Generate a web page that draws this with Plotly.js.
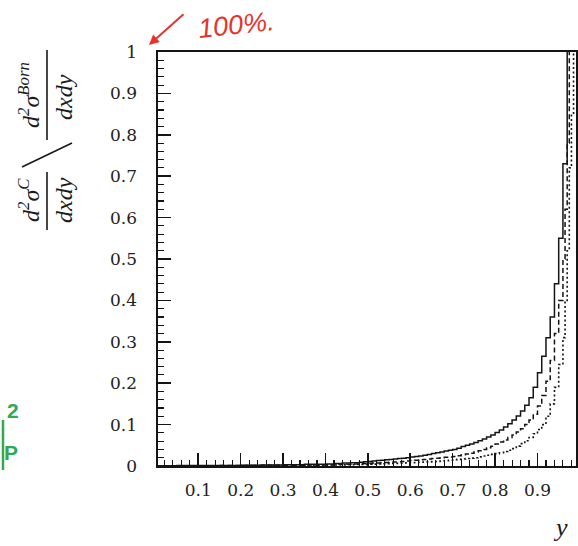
<!DOCTYPE html>
<html><head><meta charset="utf-8">
<script src="https://cdn.plot.ly/plotly-3.0.1.min.js"></script>
<style>html,body{margin:0;padding:0;background:#fff;} #chart{width:578px;height:546px;}</style>
</head><body><div id="chart"></div>
<script>
// bin left edges (last entry is the right edge of the final bin)
const xEdges = [0, 0.05, 0.10, 0.15, 0.20, 0.25, 0.30, 0.35,
  0.40, 0.41, 0.42, 0.43, 0.44, 0.45, 0.46, 0.47, 0.48, 0.49,
  0.50, 0.51, 0.52, 0.53, 0.54, 0.55, 0.56, 0.57, 0.58, 0.59,
  0.60, 0.61, 0.62, 0.63, 0.64, 0.65, 0.66, 0.67, 0.68, 0.69,
  0.70, 0.71, 0.72, 0.73, 0.74, 0.75, 0.76, 0.77, 0.78, 0.79,
  0.80, 0.81, 0.82, 0.83, 0.84, 0.85, 0.86, 0.87, 0.88, 0.89,
  0.90, 0.91, 0.92, 0.93, 0.94, 0.95, 0.96,
  0.965, 0.97, 0.975, 0.98, 0.985, 0.99, 1.0];

// solid histogram
const solidVals = [0.0005, 0.001, 0.001, 0.0015, 0.002, 0.0025, 0.003, 0.004,
  0.005, 0.005, 0.006, 0.006, 0.007, 0.007, 0.008, 0.008, 0.009, 0.010,
  0.011, 0.012, 0.013, 0.014, 0.015, 0.016, 0.017, 0.018, 0.019, 0.020,
  0.022, 0.023, 0.024, 0.026, 0.028, 0.030, 0.032, 0.034, 0.036, 0.038,
  0.040, 0.043, 0.047, 0.050, 0.053, 0.057, 0.061, 0.065, 0.070, 0.075,
  0.081, 0.087, 0.094, 0.102, 0.111, 0.121, 0.133, 0.147, 0.165, 0.19,
  0.225, 0.265, 0.31, 0.36, 0.44, 0.55, 0.73,
  0.73, 1.2, 1.2, 1.2, 1.2, 1.2];

// dashed histogram
const dashedVals = [0.0003, 0.0006, 0.0008, 0.001, 0.0013, 0.0016, 0.002, 0.0025,
  0.003, 0.003, 0.0035, 0.004, 0.004, 0.0045, 0.005, 0.005, 0.0055, 0.006,
  0.0065, 0.007, 0.0075, 0.008, 0.0085, 0.009, 0.0095, 0.010, 0.011, 0.012,
  0.013, 0.014, 0.015, 0.016, 0.017, 0.018, 0.019, 0.020, 0.021, 0.022,
  0.023, 0.025, 0.027, 0.029, 0.031, 0.034, 0.037, 0.040, 0.044, 0.048,
  0.053, 0.058, 0.063, 0.069, 0.075, 0.082, 0.090, 0.100, 0.111, 0.125,
  0.145, 0.17, 0.205, 0.255, 0.32, 0.40, 0.50,
  0.62, 0.78, 1.2, 1.2, 1.2, 1.2];

// dotted histogram
const dottedVals = [0.0002, 0.0004, 0.0005, 0.0007, 0.0009, 0.0011, 0.0013, 0.0016,
  0.002, 0.002, 0.0023, 0.0025, 0.0027, 0.003, 0.0032, 0.0035, 0.0037, 0.004,
  0.0043, 0.0046, 0.005, 0.0053, 0.0056, 0.006, 0.0064, 0.0068, 0.0072, 0.0076,
  0.008, 0.0085, 0.009, 0.0095, 0.010, 0.0105, 0.011, 0.012, 0.013, 0.014,
  0.015, 0.016, 0.017, 0.018, 0.019, 0.020, 0.022, 0.024, 0.026, 0.028,
  0.030, 0.032, 0.035, 0.038, 0.042, 0.048, 0.054, 0.061, 0.069, 0.078,
  0.088, 0.10, 0.12, 0.15, 0.19, 0.245, 0.31,
  0.40, 0.52, 0.72, 0.85, 1.2, 1.2];

const yTickVals = [0, 0.1, 0.2, 0.3, 0.4, 0.5, 0.6, 0.7, 0.8, 0.9, 1];
const yTickText = ['0', '0.1', '0.2', '0.3', '0.4', '0.5', '0.6', '0.7', '0.8', '0.9', '1'];
const xTickVals = [0.1, 0.2, 0.3, 0.4, 0.5, 0.6, 0.7, 0.8, 0.9];
const xTickText = ['0.1', '0.2', '0.3', '0.4', '0.5', '0.6', '0.7', '0.8', '0.9'];

const W = 578, H = 546, L = 158, R = 2, T = 52, B = 80;
const pw = W - L - R, ph = H - T - B;
function px(x) { return (x - L) / pw; }
function py(y) { return (H - B - y) / ph; }
function step(v) { return v.concat([v[v.length - 1]]); }

const ink = '#141414';
const traces = [
  {x: xEdges, y: step(solidVals), mode: 'lines', line: {shape: 'hv', color: ink, width: 1.5}, hoverinfo: 'skip'},
  {x: xEdges, y: step(dashedVals), mode: 'lines', line: {shape: 'hv', color: ink, width: 1.5, dash: '5px,3px'}, hoverinfo: 'skip'},
  {x: xEdges, y: step(dottedVals), mode: 'lines', line: {shape: 'hv', color: ink, width: 1.6, dash: '2px,2.5px'}, hoverinfo: 'skip'}
];

const tickFont = {family: 'DejaVu Serif', size: 17, color: '#222'};
const serifI = {family: 'Liberation Serif', size: 24, color: '#1a1a1a', style: 'italic'};

const axisCommon = {
  ticks: 'inside', ticklen: 13, tickwidth: 1.6, tickcolor: ink,
  showline: true, linecolor: ink, linewidth: 1.6, mirror: true,
  showgrid: false, zeroline: false, tickfont: tickFont,
  minor: {dtick: 0.02, ticks: 'inside', ticklen: 6, tickwidth: 1.1, tickcolor: ink, showgrid: false}
};

const layout = {
  width: W, height: H,
  margin: {l: L, r: R, t: T, b: B, pad: 0},
  paper_bgcolor: '#fff', plot_bgcolor: '#fff',
  showlegend: false,
  xaxis: Object.assign({}, axisCommon, {
    range: [0.005, 0.9908], tickmode: 'array', tickvals: xTickVals, ticktext: xTickText,
    ticklabelstandoff: 8
  }),
  yaxis: Object.assign({}, axisCommon, {
    range: [0, 1], tickmode: 'array', tickvals: yTickVals, ticktext: yTickText,
    ticklabelstandoff: 16
  }),
  shapes: [
    {type: 'line', xref: 'paper', yref: 'paper', x0: px(47), x1: px(47), y0: py(50), y1: py(140), line: {color: '#1a1a1a', width: 1.6}},
    {type: 'line', xref: 'paper', yref: 'paper', x0: px(47), x1: px(47), y0: py(172), y1: py(230), line: {color: '#1a1a1a', width: 1.6}},
    {type: 'line', xref: 'paper', yref: 'paper', x0: px(22), x1: px(72), y0: py(167), y1: py(143), line: {color: '#1a1a1a', width: 1.6}},
    {type: 'line', xref: 'paper', yref: 'paper', x0: px(3), x1: px(3), y0: py(420), y1: py(470), line: {color: '#33a852', width: 2.5}}
  ],
  annotations: [
    {xref: 'paper', yref: 'paper', x: px(29), y: py(95), text: '<i>d</i><sup>2</sup><i>σ</i><sup><i>Born</i></sup>', showarrow: false, textangle: -90, font: serifI, xanchor: 'center', yanchor: 'middle'},
    {xref: 'paper', yref: 'paper', x: px(64), y: py(97), text: '<i>dxdy</i>', showarrow: false, textangle: -90, font: serifI, xanchor: 'center', yanchor: 'middle'},
    {xref: 'paper', yref: 'paper', x: px(29), y: py(200), text: '<i>d</i><sup>2</sup><i>σ</i><sup><i>C</i></sup>', showarrow: false, textangle: -90, font: serifI, xanchor: 'center', yanchor: 'middle'},
    {xref: 'paper', yref: 'paper', x: px(64), y: py(200), text: '<i>dxdy</i>', showarrow: false, textangle: -90, font: serifI, xanchor: 'center', yanchor: 'middle'},
    {xref: 'paper', yref: 'paper', x: px(560), y: py(527), text: '<i>y</i>', showarrow: false, font: {family: 'Liberation Serif', size: 26, color: '#1a1a1a', style: 'italic'}, xanchor: 'center', yanchor: 'middle'},
    {xref: 'paper', yref: 'paper', x: px(236), y: py(25), text: '100%.', showarrow: false, textangle: -6, font: {family: 'Liberation Sans', size: 27, color: '#e5342c', style: 'italic'}, xanchor: 'center', yanchor: 'middle'},
    {xref: 'paper', yref: 'paper', x: px(149), y: py(45), text: '', showarrow: true, axref: 'pixel', ayref: 'pixel', ax: 36, ay: -32, arrowcolor: '#e5342c', arrowwidth: 2, arrowhead: 2, arrowsize: 1},
    {xref: 'paper', yref: 'paper', x: px(13), y: py(410), text: '2', showarrow: false, font: {family: 'Liberation Sans', size: 21, color: '#33a852', weight: 'bold'}, xanchor: 'center', yanchor: 'middle'},
    {xref: 'paper', yref: 'paper', x: px(11), y: py(452), text: 'P', showarrow: false, font: {family: 'Liberation Sans', size: 21, color: '#33a852', weight: 'bold'}, xanchor: 'center', yanchor: 'middle'}
  ]
};

Plotly.newPlot('chart', traces, layout, {displayModeBar: false, staticPlot: true});
</script>
</body></html>
